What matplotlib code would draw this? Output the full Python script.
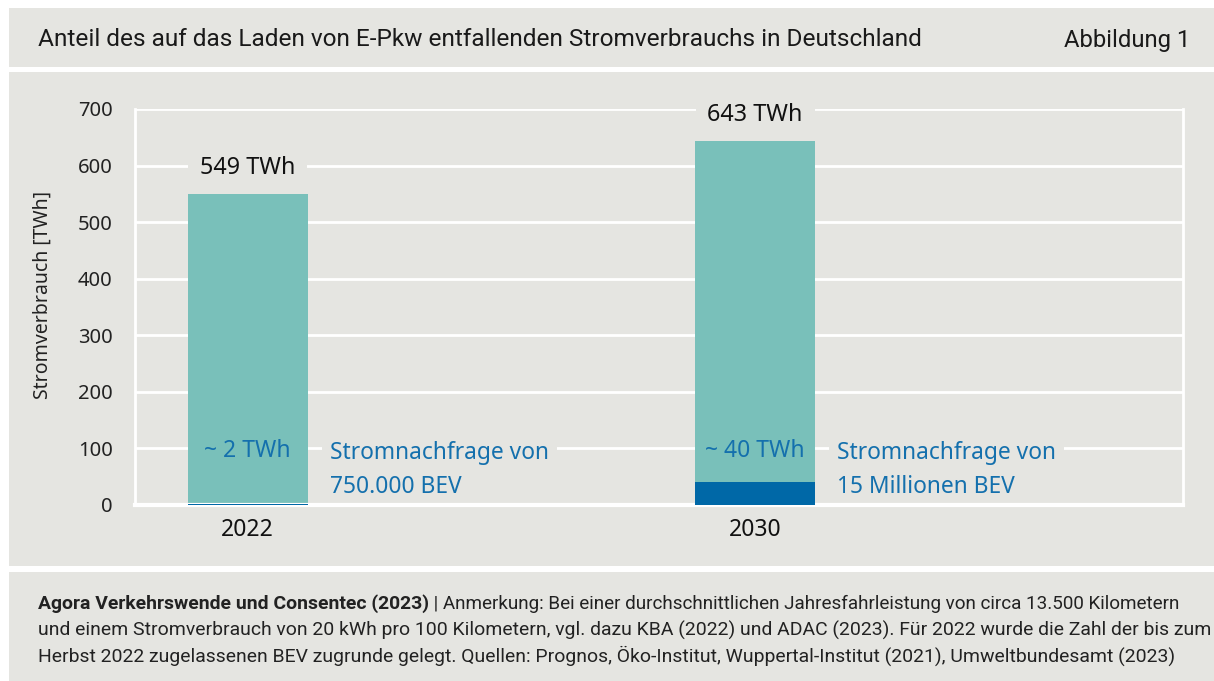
import matplotlib
matplotlib.use("Agg")
import matplotlib.pyplot as plt
from matplotlib.patches import Rectangle

# ---- data ----
years = ["2022", "2030"]
total_twh = [549, 643]
bev_twh = [2, 40]
total_labels = ["549 TWh", "643 TWh"]
bev_labels = ["~ 2 TWh", "~ 40 TWh"]
bev_notes = ["Stromnachfrage von\n750.000 BEV", "Stromnachfrage von\n15 Millionen BEV"]
yticks = [0, 100, 200, 300, 400, 500, 600, 700]

title = "Anteil des auf das Laden von E-Pkw entfallenden Stromverbrauchs in Deutschland"
fig_label = "Abbildung 1"
ylabel = "Stromverbrauch [TWh]"
source_bold = "Agora Verkehrswende und Consentec (2023)"
source_rest1 = " | Anmerkung: Bei einer durchschnittlichen Jahresfahrleistung von circa 13.500 Kilometern"
source_lines = [
    "und einem Stromverbrauch von 20 kWh pro 100 Kilometern, vgl. dazu KBA (2022) und ADAC (2023). Für 2022 wurde die Zahl der bis zum",
    "Herbst 2022 zugelassenen BEV zugrunde gelegt. Quellen: Prognos, Öko-Institut, Wuppertal-Institut (2021), Umweltbundesamt (2023)",
]

# ---- style ----
W, H = 1214, 681
PANEL = "#e5e5e1"
TEAL = "#79c0ba"
DARKBLUE = "#0068a7"
TEXTBLUE = "#1470ad"
NARROW = ["Roboto", "DejaVu Sans"]
MAIN = ["Noto Sans", "DejaVu Sans"]

fig = plt.figure(figsize=(W / 100, H / 100), dpi=100, facecolor="white")
renderer = fig.canvas.get_renderer()

def px_rect(x0, y0, x1, y1, color):
    fig.patches.append(Rectangle((x0 / W, 1 - y1 / H), (x1 - x0) / W, (y1 - y0) / H,
                                 transform=fig.transFigure, facecolor=color,
                                 edgecolor="none", zorder=-10))

def fit_width(t, target_px):
    w = t.get_window_extent(renderer=renderer).width
    t.set_fontsize(t.get_fontsize() * target_px / w)

px_rect(9, 8, W, 67, PANEL)
px_rect(9, 72, W, 566, PANEL)
px_rect(9, 572, W, H, PANEL)

tt = fig.text(38 / W, 1 - 40 / H, title, family=NARROW, fontsize=17, color="#1a1a1a",
              va="center", ha="left")
fit_width(tt, 888)
tl = fig.text(1190 / W, 1 - 40 / H, fig_label, family=NARROW, fontsize=17, color="#1a1a1a",
              va="center", ha="right")
fit_width(tl, 127)

# axes
ax_l, ax_r, ax_t, ax_b = 135, 1183, 109, 505
ax = fig.add_axes([ax_l / W, 1 - ax_b / H, (ax_r - ax_l) / W, (ax_b - ax_t) / H])
ax.set_facecolor("none")
ax.set_ylim(0, 700)
ax.set_xlim(-0.222, 1.843)
ax.set_yticks(yticks)
ax.set_yticklabels([str(t) for t in yticks], family=MAIN, fontsize=14.5, color="#222222")
ax.tick_params(axis="y", length=0, pad=16)
ax.set_xticks([])
ax.grid(axis="y", color="white", linewidth=2)
ax.set_axisbelow(True)
ax.spines["top"].set_visible(False)
for s in ["left", "right"]:
    ax.spines[s].set_color("white")
    ax.spines[s].set_linewidth(2)
ax.spines["bottom"].set_color("white")
ax.spines["bottom"].set_linewidth(3)
ax.spines["bottom"].set_zorder(6)
ax.set_ylabel(ylabel, family=MAIN, fontsize=14, color="#222222")
ax.yaxis.set_label_coords(-0.079, 0.53)

x = [0, 1]
bw = 0.236
ax.bar(x, total_twh, width=bw, color=TEAL, zorder=2)
ax.bar(x, bev_twh, width=bw, color=DARKBLUE, zorder=7)

for i in range(len(x)):
    ax.text(x[i], total_twh[i] + 47, total_labels[i], ha="center", va="center",
            family=MAIN, fontsize=16.8, color="#111111", zorder=5,
            bbox=dict(boxstyle="square,pad=0.5", facecolor=PANEL, edgecolor="none"))
    ax.text(x[i], 95, bev_labels[i], ha="center", va="center",
            family=MAIN, fontsize=16.5, color=TEXTBLUE, zorder=5)
    ax.text(x[i] + bw / 2 + 0.044, 62, bev_notes[i], ha="left", va="center",
            family=MAIN, fontsize=16.4, color=TEXTBLUE, zorder=5, linespacing=1.52,
            bbox=dict(boxstyle="square,pad=0.35", facecolor=PANEL, edgecolor="none"))
    ax.text(x[i], -45, years[i], ha="center", va="center", family=MAIN,
            fontsize=16.5, color="#111111", clip_on=False)

# footer
fs = 12.5
t0 = fig.text(38 / W, 1 - 604 / H, source_bold, family=NARROW, fontsize=fs,
              fontweight="bold", color="#222222", va="center", ha="left")
fit_width(t0, 392)
bb = t0.get_window_extent(renderer=renderer)
t1 = fig.text(bb.x1 / W, 1 - 604 / H, source_rest1, family=NARROW, fontsize=fs,
              color="#222222", va="center", ha="left")
fit_width(t1, 1185 - bb.x1)
targets = [1167, 1132]
for k, line in enumerate(source_lines):
    tk = fig.text(38 / W, 1 - (630 + 26 * k) / H, line, family=NARROW, fontsize=fs,
                  color="#222222", va="center", ha="left")
    fit_width(tk, targets[k])

fig.savefig("out.png", dpi=100, facecolor="white")
